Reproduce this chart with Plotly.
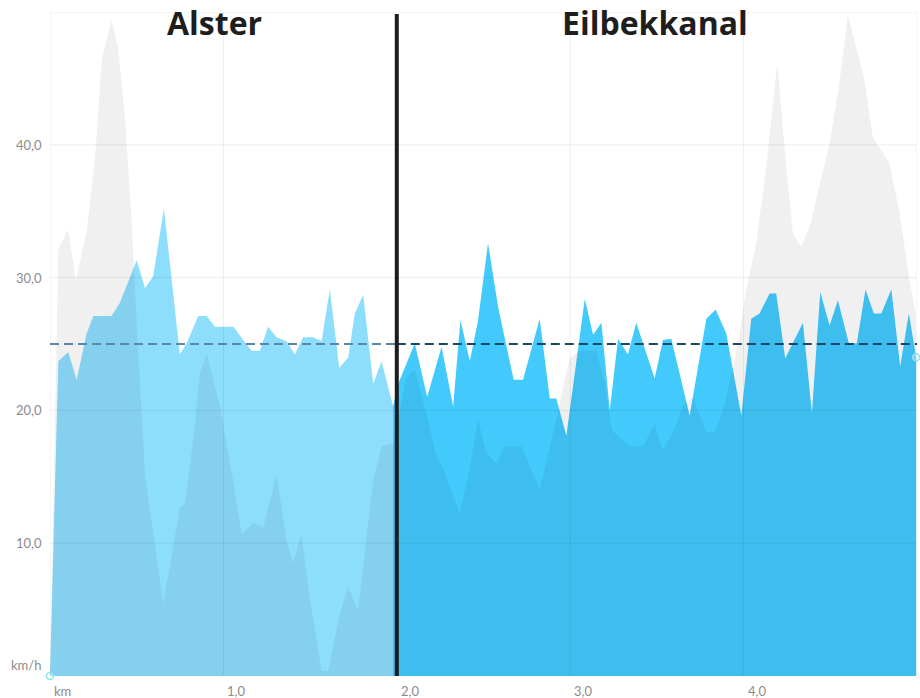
import plotly.graph_objects as go

# ---- data (km, km/h) ----
speed_km = [0.0, 0.048, 0.105, 0.154, 0.211, 0.25, 0.355, 0.403, 0.5, 0.548, 0.595, 0.657,
            0.749, 0.788, 0.855, 0.903, 0.951, 1.057, 1.162, 1.21, 1.258, 1.306, 1.364,
            1.412, 1.46, 1.518, 1.566, 1.614, 1.668, 1.72, 1.758, 1.806, 1.864, 1.912,
            1.979, 2.008, 2.104, 2.175, 2.258, 2.325, 2.367, 2.421, 2.469, 2.526, 2.584,
            2.613, 2.674, 2.728, 2.824, 2.882, 2.92, 2.978, 3.084, 3.132, 3.18, 3.228,
            3.276, 3.333, 3.381, 3.487, 3.535, 3.583, 3.689, 3.785, 3.839, 3.9, 3.987,
            4.044, 4.092, 4.15, 4.188, 4.24, 4.342, 4.394, 4.442, 4.496, 4.544, 4.607,
            4.653, 4.703, 4.751, 4.794, 4.852, 4.903, 4.953, 4.995]
speed_kmh = [0.0, 23.7, 24.4, 22.3, 25.8, 27.1, 27.1, 28.1, 31.3, 29.2, 30.1, 35.2,
             24.2, 25.05, 27.1, 27.1, 26.3, 26.3, 24.5, 24.5, 26.3, 25.5, 25.2,
             24.2, 25.5, 25.5, 25.2, 29.1, 23.2, 24.0, 27.3, 28.7, 22.0, 23.7,
             20.3, 22.0, 25.05, 21.0, 24.8, 20.3, 26.8, 23.7, 26.8, 32.6, 27.8,
             26.1, 22.3, 22.3, 26.9, 20.9, 20.9, 18.1, 28.4, 25.7, 26.6, 20.0,
             25.4, 24.2, 26.6, 22.4, 25.3, 25.4, 19.6, 26.9, 27.6, 25.8, 19.6,
             26.9, 27.3, 28.8, 28.8, 23.9, 26.6, 19.8, 28.9, 26.4, 28.3, 25.05,
             25.05, 29.1, 27.3, 27.3, 29.1, 23.3, 27.3, 24.0]

compare_km = [0.0, 0.048, 0.105, 0.15, 0.21, 0.26, 0.298, 0.355, 0.394, 0.432, 0.47,
              0.505, 0.548, 0.653, 0.749, 0.778, 0.826, 0.865, 0.903, 0.98, 1.057,
              1.105, 1.172, 1.23, 1.306, 1.364, 1.402, 1.45, 1.499, 1.566, 1.604,
              1.671, 1.72, 1.777, 1.825, 1.864, 1.912, 1.979, 2.056, 2.104, 2.18,
              2.229, 2.267, 2.363, 2.411, 2.469, 2.517, 2.574, 2.623, 2.719, 2.824,
              2.92, 2.968, 3.0, 3.06, 3.15, 3.2, 3.24, 3.343, 3.42, 3.487, 3.535,
              3.592, 3.65, 3.707, 3.785, 3.833, 3.891, 3.939, 3.977, 4.015, 4.073,
              4.131, 4.169, 4.194, 4.246, 4.284, 4.332, 4.38, 4.496, 4.553, 4.601,
              4.697, 4.745, 4.841, 4.899, 4.957, 4.995]
compare_kmh = [0.0, 32.2, 33.6, 29.8, 33.4, 39.1, 46.4, 49.4, 47.2, 42.1, 34.6,
               25.3, 15.2, 5.4, 12.7, 13.0, 17.8, 22.8, 24.3, 20.3, 14.7,
               10.7, 11.5, 11.2, 15.2, 10.2, 8.5, 10.7, 5.9, 0.4, 0.4,
               4.7, 6.7, 4.9, 10.5, 14.7, 17.3, 17.5, 22.5, 23.0, 19.3,
               16.5, 15.7, 12.2, 15.0, 19.3, 16.8, 16.0, 17.3, 17.3, 14.0,
               19.3, 22.3, 24.0, 24.5, 24.5, 22.0, 18.5, 17.3, 17.3, 19.0, 17.0,
               18.3, 20.3, 21.0, 18.4, 18.3, 20.5, 23.3, 25.8, 29.1, 32.6,
               38.4, 43.4, 46.2, 38.4, 33.3, 32.3, 33.8, 40.1, 44.7, 49.8,
               44.9, 40.6, 38.6, 34.9, 29.8, 27.1]

average_kmh = 25.0
split_km = 2.0
section_names = ["Alster", "Eilbekkanal"]
section_centers = [0.95, 3.49]
x_ticks = [0, 1, 2, 3, 4]
x_tick_labels = ["km", "1,0", "2,0", "3,0", "4,0"]
y_ticks = [10, 20, 30, 40]
y_tick_labels = ["10,0", "20,0", "30,0", "40,0"]
y_unit = "km/h"
x_max = 5.0
y_max = 50

LEFT_BLUE = "rgb(141,222,253)"
RIGHT_BLUE = "rgb(66,202,253)"

# split series around the section boundary (overlapping one point each side)
left_x = [x for x in speed_km if x <= 2.008]
left_y = speed_kmh[:len(left_x)]
first_right = [i for i, x in enumerate(speed_km) if x >= 1.979][0]
right_x = speed_km[first_right:]
right_y = speed_kmh[first_right:]

fig = go.Figure()
fig.add_trace(go.Scatter(x=left_x, y=left_y, mode="lines", fill="tozeroy",
                         line=dict(width=0, color=LEFT_BLUE), fillcolor=LEFT_BLUE,
                         hoverinfo="skip", showlegend=False))
fig.add_trace(go.Scatter(x=right_x, y=right_y, mode="lines", fill="tozeroy",
                         line=dict(width=0, color=RIGHT_BLUE), fillcolor=RIGHT_BLUE,
                         hoverinfo="skip", showlegend=False))
fig.add_trace(go.Scatter(x=compare_km, y=compare_kmh, mode="lines", fill="tozeroy",
                         line=dict(width=0, color="rgba(0,0,0,0)"),
                         fillcolor="rgba(0,0,0,0.06)", hoverinfo="skip", showlegend=False))
# average lines
fig.add_trace(go.Scatter(x=[0, split_km], y=[average_kmh, average_kmh], mode="lines",
                         line=dict(color="#5a88a4", width=2, dash="9px,5px"),
                         hoverinfo="skip", showlegend=False))
fig.add_trace(go.Scatter(x=[split_km, x_max], y=[average_kmh, average_kmh], mode="lines",
                         line=dict(color="#1b4766", width=2, dash="9px,5px"),
                         hoverinfo="skip", showlegend=False))
# end markers
fig.add_trace(go.Scatter(x=[speed_km[0], speed_km[-1]], y=[speed_kmh[0], speed_kmh[-1]],
                         mode="markers", cliponaxis=False,
                         marker=dict(size=7, color="rgba(255,255,255,0.3)",
                                     line=dict(color="#8fe3ee", width=1.5)),
                         hoverinfo="skip", showlegend=False))

shapes = []
grid_col = "rgba(0,0,0,0.07)"
for v in [10, 20, 30, 40, 50]:
    shapes.append(dict(type="line", xref="x", yref="y", x0=0, x1=x_max, y0=v, y1=v,
                       line=dict(color=grid_col, width=1), layer="above"))
for v in [0, 1, 3, 4, 5]:
    shapes.append(dict(type="line", xref="x", yref="y", x0=v, x1=v, y0=0, y1=y_max,
                       line=dict(color=grid_col, width=1), layer="above"))
shapes.append(dict(type="line", xref="x", yref="paper", x0=split_km, x1=split_km,
                   y0=0, y1=0.997, line=dict(color="#1c1c1c", width=4), layer="above"))

annotations = []
lab_font = dict(family="Lato, sans-serif", size=13, color="#8c8c8c")
for v, t in zip(y_ticks, y_tick_labels):
    annotations.append(dict(x=0, y=v, xref="x", yref="y", text=t, showarrow=False,
                            xanchor="right", yanchor="middle", xshift=-6, font=lab_font))
annotations.append(dict(x=0, y=0, xref="x", yref="y", text=y_unit, showarrow=False,
                        xanchor="right", yanchor="middle", xshift=-7, yshift=11, font=lab_font))
for v, t in zip(x_ticks, x_tick_labels):
    annotations.append(dict(x=v, y=0, xref="x", yref="y", text=t, showarrow=False,
                            xanchor="left", yanchor="top", xshift=2, yshift=-5, font=lab_font))
for c, name in zip(section_centers, section_names):
    annotations.append(dict(x=c, y=1.0, xref="x", yref="paper", text=name, showarrow=False,
                            xanchor="center", yanchor="middle", yshift=-10,
                            font=dict(family="Open Sans, sans-serif", size=32, color="#1e1e1e",
                                      weight="bold")))

fig.update_layout(
    width=920, height=698,
    margin=dict(l=50, r=3, t=12, b=22),
    paper_bgcolor="white", plot_bgcolor="white",
    xaxis=dict(range=[0, x_max], showgrid=False, zeroline=False, showticklabels=False,
               showline=False, ticks=""),
    yaxis=dict(range=[0, y_max], showgrid=False, zeroline=False, showticklabels=False,
               showline=False, ticks=""),
    shapes=shapes, annotations=annotations,
)
fig.write_html("out.html", config={"displayModeBar": False},
               post_script="document.body.style.margin='0';document.body.style.overflow='hidden';")
